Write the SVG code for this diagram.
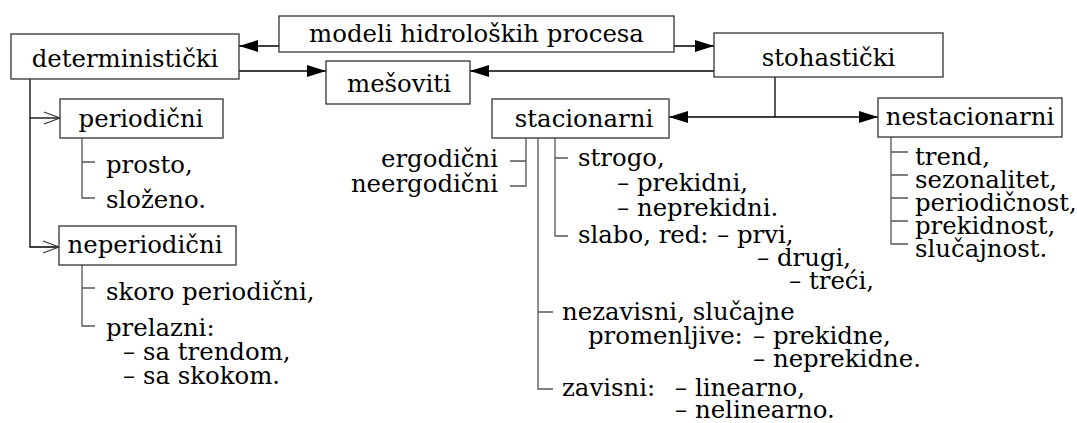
<svg xmlns="http://www.w3.org/2000/svg" width="1077" height="423" viewBox="0 0 1077 423">
  <style>
    text { font-family: "DejaVu Serif", serif; font-size: 24.4px; fill: #000; }
    .box { fill: #fff; stroke: #333; stroke-width: 1.3; }
    .mid { text-anchor: middle; }
    .end { text-anchor: end; }
    .link { fill: none; stroke: #000; stroke-width: 1.3; }
    .tree { fill: none; stroke: #555; stroke-width: 1.3; }
  </style>
  <defs>
    <marker id="head" viewBox="0 0 19 12" refX="19" refY="6" markerWidth="19" markerHeight="12" markerUnits="userSpaceOnUse" orient="auto-start-reverse">
      <path d="M0,0 L19,6 L0,12 Z" fill="#000"/>
    </marker>
    <marker id="open" viewBox="0 0 18 14" refX="17" refY="7" markerWidth="18" markerHeight="14" markerUnits="userSpaceOnUse" orient="auto">
      <path d="M1,1 L17,7 L1,13" fill="none" stroke="#333" stroke-width="1.2"/>
    </marker>
  </defs>

  <!-- connectors -->
  <g id="connectors">
    <line class="link" x1="279" y1="46" x2="239" y2="46" marker-end="url(#head)"/>
    <line class="link" x1="674" y1="46" x2="714" y2="46" marker-end="url(#head)"/>
    <line class="link" x1="239" y1="71" x2="326" y2="71" marker-end="url(#head)"/>
    <line class="link" x1="714" y1="71" x2="470" y2="71" marker-end="url(#head)"/>
    <line class="link" x1="775" y1="77" x2="775" y2="117"/>
    <line class="link" x1="669" y1="117" x2="878" y2="117" marker-start="url(#head)" marker-end="url(#head)"/>
    <path class="link" d="M30,79 V247 H59" marker-end="url(#open)"/>
    <path class="link" d="M30,118 H60" marker-end="url(#open)"/>
    <!-- branch lines of the item lists -->
    <path class="tree" d="M82,138 V198 H95 M82,162 H95"/>
    <path class="tree" d="M82,265 V326 H95 M82,288 H95"/>
    <path class="tree" d="M526,138 V186 H510 M526,161 H510"/>
    <path class="tree" d="M538,138 V389 H553 M538,312 H553"/>
    <path class="tree" d="M555,138 V236 H568 M555,158 H568"/>
    <path class="tree" d="M891,137 V244 H908 M891,152 H908 M891,175 H908 M891,198 H908 M891,221 H908"/>
  </g>

  <g id="modeli">
    <rect class="box" x="279" y="16" width="395" height="36"/>
    <text class="mid" x="476.5" y="42">modeli hidroloških procesa</text>
  </g>
  <g id="deterministicki">
    <rect class="box" x="11" y="34" width="228" height="45"/>
    <text class="mid" x="125" y="67">deterministički</text>
  </g>
  <g id="mesoviti">
    <rect class="box" x="326" y="61" width="144" height="43"/>
    <text class="mid" x="399" y="92">mešoviti</text>
  </g>
  <g id="stohasticki">
    <rect class="box" x="714" y="33" width="229" height="44"/>
    <text class="mid" x="828.5" y="66">stohastički</text>
  </g>
  <g id="stacionarni">
    <rect class="box" x="492" y="99" width="177" height="39"/>
    <text class="mid" x="584" y="127">stacionarni</text>
  </g>
  <g id="nestacionarni">
    <rect class="box" x="878" y="98" width="184" height="39"/>
    <text class="mid" x="970" y="125">nestacionarni</text>
  </g>
  <g id="periodicni">
    <rect class="box" x="60" y="99" width="163" height="39"/>
    <text class="mid" x="141" y="127">periodični</text>
  </g>
  <g id="neperiodicni">
    <rect class="box" x="59" y="226" width="177" height="39"/>
    <text class="mid" x="145" y="253">neperiodični</text>
  </g>

  <!-- item lists -->
  <g id="periodicni-items">
    <text x="106" y="173">prosto,</text>
    <text x="106" y="208">složeno.</text>
  </g>
  <g id="neperiodicni-items">
    <text x="106" y="300">skoro periodični,</text>
    <text x="106" y="336">prelazni:</text>
    <text x="123" y="360">– sa trendom,</text>
    <text x="123" y="384">– sa skokom.</text>
  </g>
  <g id="ergodicnost-items">
    <text class="end" x="498" y="167">ergodični</text>
    <text class="end" x="498" y="192">neergodični</text>
  </g>
  <g id="stacionarnost-items">
    <text x="578" y="166">strogo,</text>
    <text x="617" y="191">– prekidni,</text>
    <text x="617" y="216">– neprekidni.</text>
    <text y="243"><tspan x="578">slabo, red:</tspan><tspan x="717">– prvi,</tspan></text>
    <text x="757" y="266">– drugi,</text>
    <text x="789" y="289">– treći,</text>
  </g>
  <g id="zavisnost-items">
    <text x="562" y="320">nezavisni, slučajne</text>
    <text y="344"><tspan x="588">promenljive:</tspan><tspan x="753">– prekidne,</tspan></text>
    <text x="753" y="367">– neprekidne.</text>
    <text y="396"><tspan x="562">zavisni:</tspan><tspan x="675">– linearno,</tspan></text>
    <text x="675" y="418">– nelinearno.</text>
  </g>
  <g id="nestacionarni-items">
    <text x="915" y="165">trend,</text>
    <text x="915" y="188">sezonalitet,</text>
    <text x="915" y="211">periodičnost,</text>
    <text x="915" y="234">prekidnost,</text>
    <text x="915" y="257">slučajnost.</text>
  </g>
</svg>
